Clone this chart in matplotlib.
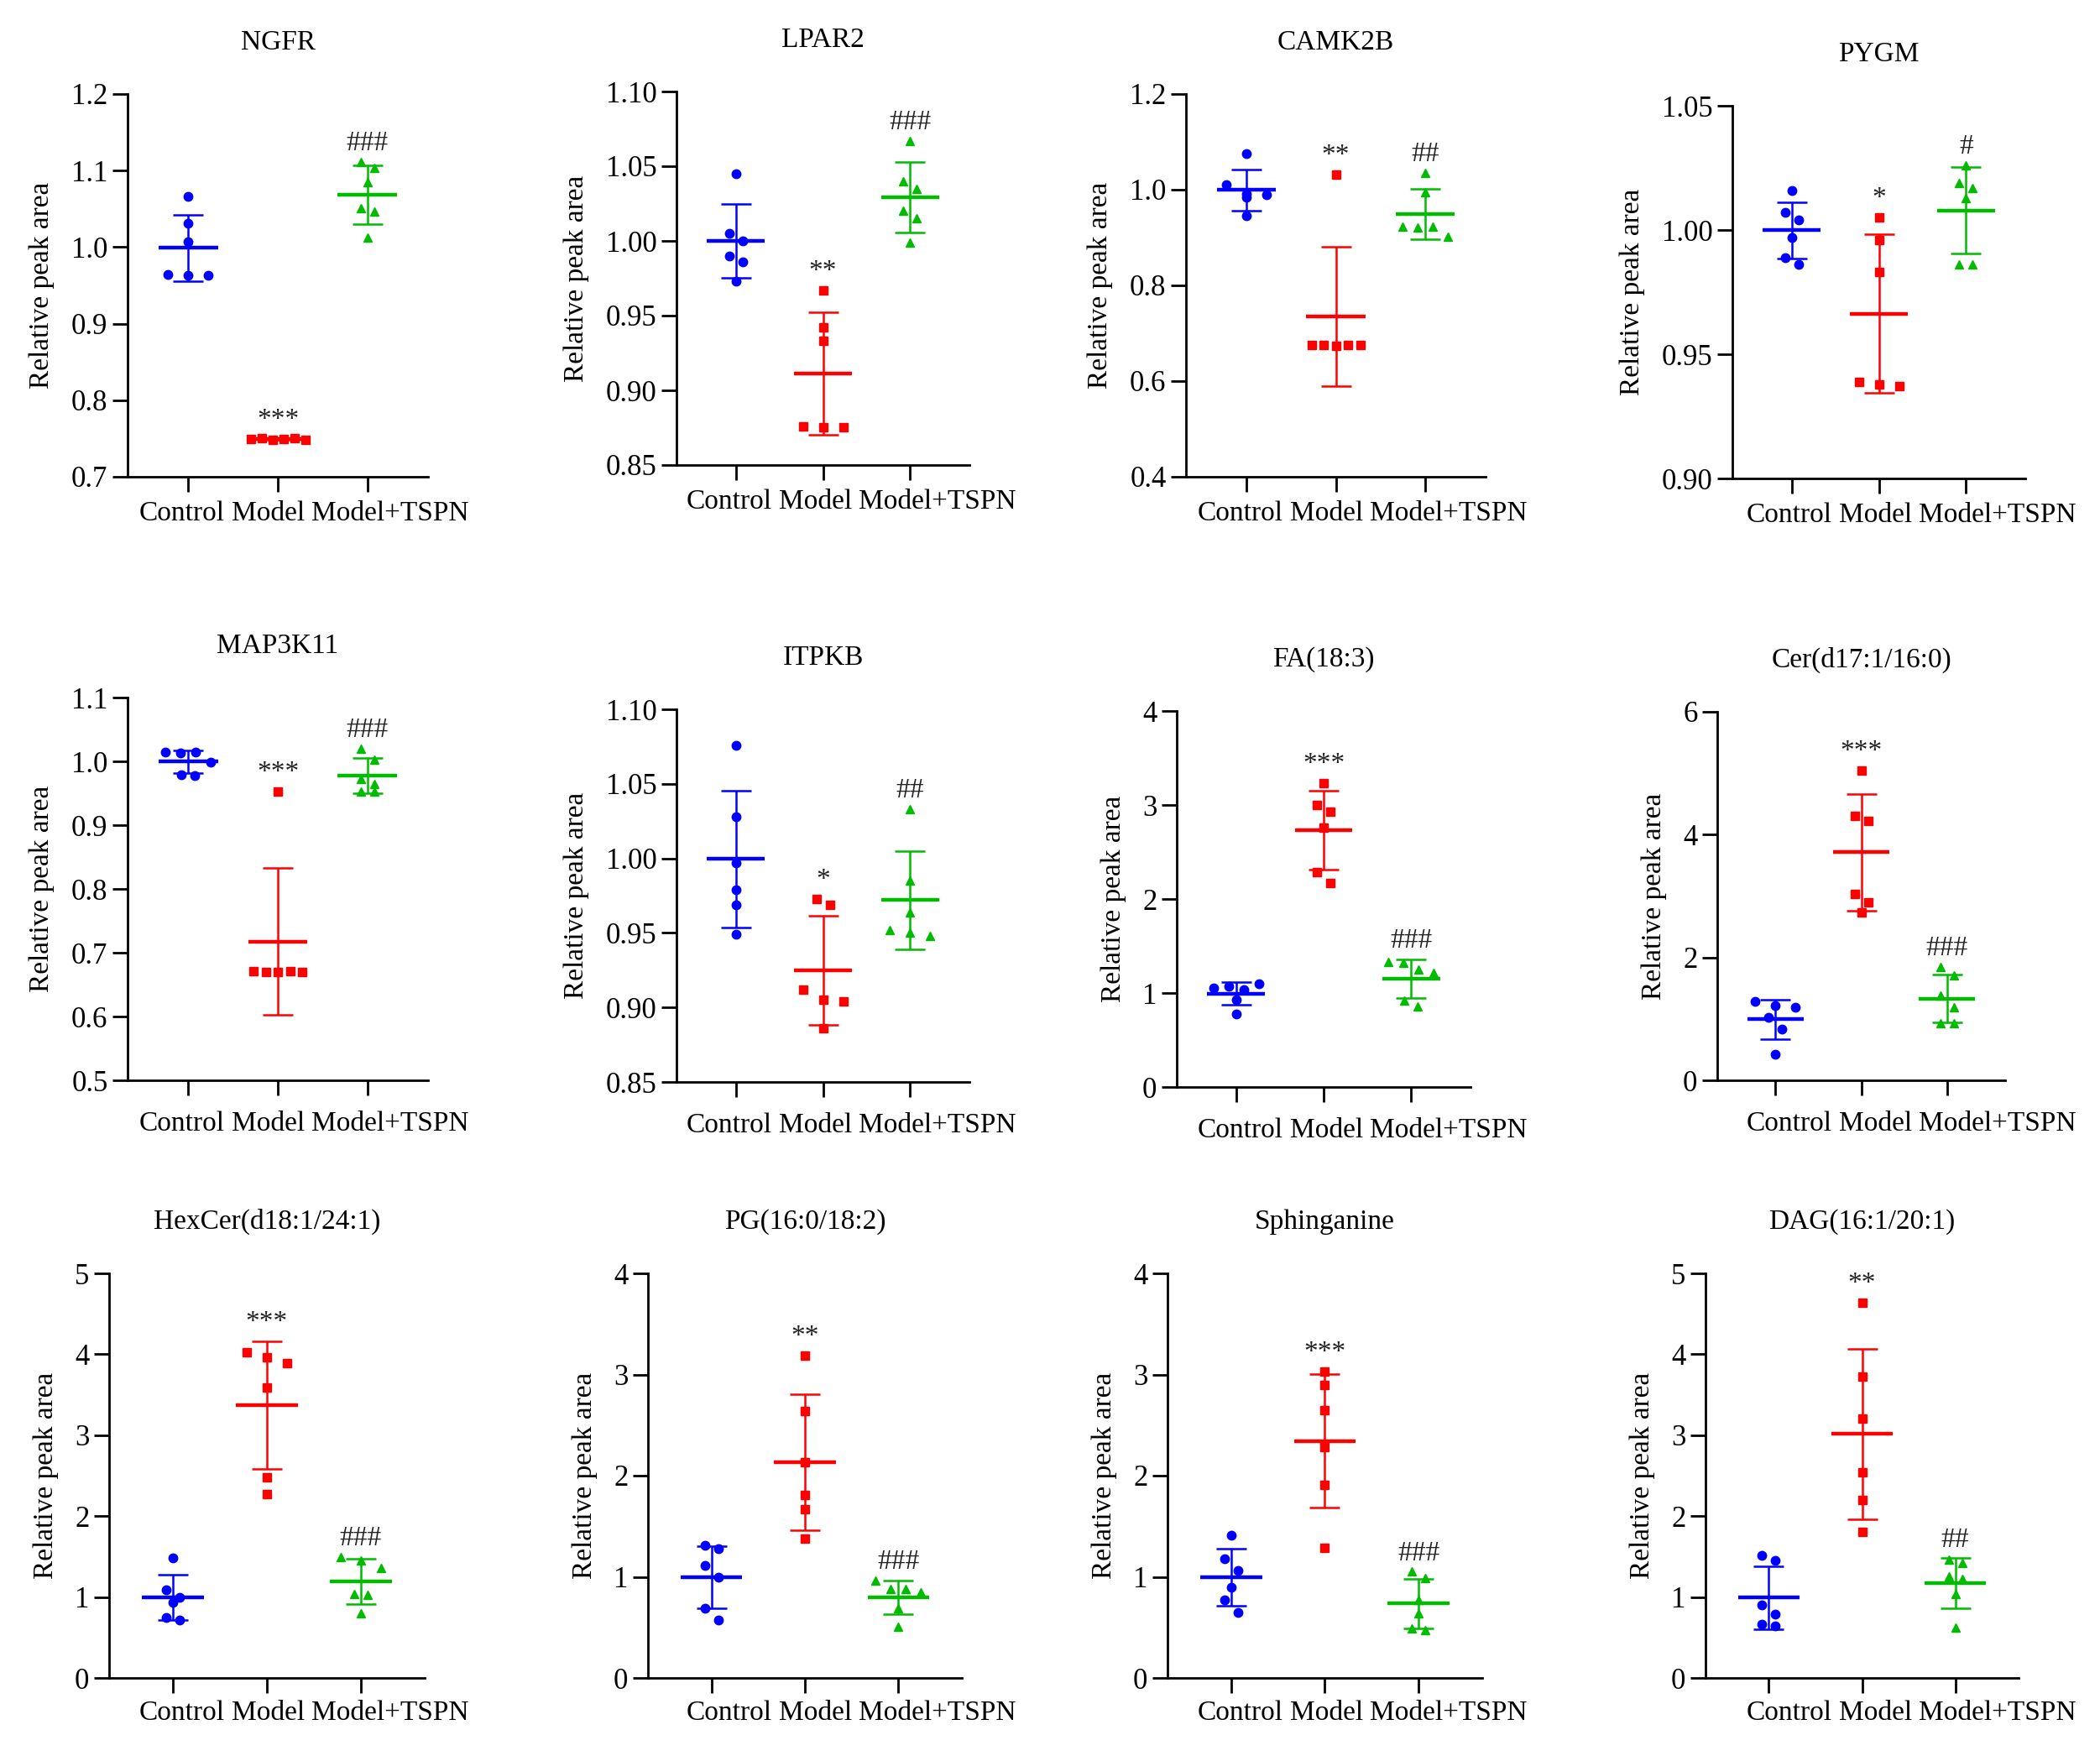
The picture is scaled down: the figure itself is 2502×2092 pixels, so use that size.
import numpy as np
import matplotlib.pyplot as plt
from matplotlib.ticker import FormatStrFormatter
from matplotlib.transforms import ScaledTranslation

plt.rcParams['font.family'] = ['Liberation Serif', 'DejaVu Serif']

groups = ["Control", "Model", "Model+TSPN"]
titles = ["NGFR", "LPAR2", "CAMK2B", "PYGM", "MAP3K11", "ITPKB", "FA(18:3)",
          "Cer(d17:1/16:0)", "HexCer(d18:1/24:1)", "PG(16:0/18:2)", "Sphinganine",
          "DAG(16:1/20:1)"]

# relative peak area, 6 samples per group
ngfr_control = [1.066, 1.031, 1.007, 0.964, 0.963, 0.963]
ngfr_model = [0.749, 0.750, 0.748, 0.749, 0.750, 0.748]
ngfr_tspn = [1.111, 1.104, 1.085, 1.051, 1.047, 1.012]

lpar2_control = [1.045, 1.005, 1.000, 0.990, 0.986, 0.973]
lpar2_model = [0.967, 0.942, 0.933, 0.876, 0.875, 0.875]
lpar2_tspn = [1.067, 1.040, 1.035, 1.020, 1.015, 0.999]

camk2b_control = [1.076, 1.011, 0.992, 0.989, 0.984, 0.945]
camk2b_model = [1.032, 0.676, 0.675, 0.674, 0.676, 0.675]
camk2b_tspn = [1.035, 0.994, 0.922, 0.921, 0.922, 0.902]

pygm_control = [1.016, 1.007, 1.004, 0.997, 0.989, 0.986]
pygm_model = [1.005, 0.996, 0.983, 0.939, 0.938, 0.937]
pygm_tspn = [1.026, 1.019, 1.017, 1.013, 0.986, 0.986]

map3k11_control = [1.015, 1.013, 1.015, 0.999, 0.979, 0.977]
map3k11_model = [0.953, 0.671, 0.670, 0.670, 0.671, 0.670]
map3k11_tspn = [1.020, 1.002, 0.973, 0.965, 0.952, 0.952]

itpkb_control = [1.076, 1.028, 0.997, 0.979, 0.969, 0.949]
itpkb_model = [0.973, 0.969, 0.912, 0.905, 0.904, 0.886]
itpkb_tspn = [1.033, 0.985, 0.964, 0.952, 0.950, 0.948]

fa_control = [1.05, 1.07, 1.04, 1.10, 0.93, 0.78]
fa_model = [3.23, 3.00, 2.93, 2.76, 2.29, 2.17]
fa_tspn = [1.33, 1.32, 1.25, 1.21, 0.92, 0.86]

cer_control = [1.28, 1.21, 1.19, 1.02, 0.83, 0.43]
cer_model = [5.05, 4.31, 4.23, 3.04, 2.90, 2.74]
cer_tspn = [1.85, 1.71, 1.38, 1.19, 0.93, 0.93]

hexcer_control = [1.48, 1.09, 1.00, 0.93, 0.75, 0.72]
hexcer_model = [4.03, 3.96, 3.89, 3.59, 2.48, 2.27]
hexcer_tspn = [1.49, 1.45, 1.36, 1.04, 1.03, 0.80]

pg_control = [1.31, 1.28, 1.11, 1.00, 0.69, 0.57]
pg_model = [3.19, 2.64, 2.13, 1.81, 1.67, 1.38]
pg_tspn = [0.96, 0.88, 0.88, 0.85, 0.69, 0.51]

sph_control = [1.41, 1.18, 1.06, 0.90, 0.77, 0.65]
sph_model = [3.03, 2.90, 2.65, 2.28, 1.91, 1.29]
sph_tspn = [1.05, 0.99, 0.77, 0.64, 0.49, 0.47]

dag_control = [1.51, 1.45, 0.90, 0.79, 0.66, 0.64]
dag_model = [4.64, 3.72, 3.21, 2.54, 2.20, 1.80]
dag_tspn = [1.46, 1.42, 1.26, 1.22, 1.04, 0.62]

model_sig = ["***", "**", "**", "*", "***", "*", "***", "***", "***", "**", "***", "**"]
tspn_sig = ["###", "###", "##", "#", "###", "##", "###", "###", "###", "###", "###", "##"]

yticks = [
    [0.7, 0.8, 0.9, 1.0, 1.1, 1.2],
    [0.85, 0.90, 0.95, 1.00, 1.05, 1.10],
    [0.4, 0.6, 0.8, 1.0, 1.2],
    [0.90, 0.95, 1.00, 1.05],
    [0.5, 0.6, 0.7, 0.8, 0.9, 1.0, 1.1],
    [0.85, 0.90, 0.95, 1.00, 1.05, 1.10],
    [0, 1, 2, 3, 4],
    [0, 2, 4, 6],
    [0, 1, 2, 3, 4, 5],
    [0, 1, 2, 3, 4],
    [0, 1, 2, 3, 4],
    [0, 1, 2, 3, 4, 5],
]
ytick_fmt = ['%.1f', '%.2f', '%.1f', '%.2f', '%.1f', '%.2f', '%d', '%d', '%d', '%d', '%d', '%d']

panels = [
    (ngfr_control, ngfr_model, ngfr_tspn),
    (lpar2_control, lpar2_model, lpar2_tspn),
    (camk2b_control, camk2b_model, camk2b_tspn),
    (pygm_control, pygm_model, pygm_tspn),
    (map3k11_control, map3k11_model, map3k11_tspn),
    (itpkb_control, itpkb_model, itpkb_tspn),
    (fa_control, fa_model, fa_tspn),
    (cer_control, cer_model, cer_tspn),
    (hexcer_control, hexcer_model, hexcer_tspn),
    (pg_control, pg_model, pg_tspn),
    (sph_control, sph_model, sph_tspn),
    (dag_control, dag_model, dag_tspn),
]

colors = ['#0000FF', '#FF0000', '#00BB00']
markers = ['o', 's', '^']

# axes boxes in pixels: left, right, top, bottom
W, H = 2502, 2092
boxes = [
    (152, 510, 112, 568), (806, 1155, 109, 554), (1413, 1770, 112, 568), (2064, 2413, 126, 570),
    (152, 510, 831, 1287), (806, 1155, 845, 1289), (1402, 1752, 847, 1295), (2046, 2389, 848, 1287),
    (130, 506, 1517, 1999), (772, 1146, 1517, 1999), (1391, 1766, 1517, 1999), (2032, 2405, 1517, 1999),
]
# group labels sit at the same spot in every column (pixel centres)
col_base = [0, 652, 1261, 1915]
label_centres = [217, 320, 465]
row_drop = [5, 13, 3]

row_spacing = {1: 0, 2: 16, 3: 24, 4: 18, 5: 14.5}


def swarm(values, xpx, ypx):
    # spread points of similar value side by side, like a scatter dot plot
    vals = np.asarray(values, dtype=float)
    order = np.argsort(vals)[::-1]
    bins = []
    for i in order:
        if bins and (vals[bins[-1][0]] - vals[i]) * ypx <= 15:
            bins[-1].append(i)
        else:
            bins.append([i])
    offs = np.zeros(len(vals))
    for b in bins:
        n = len(b)
        s = row_spacing.get(n, 13)
        for k, i in enumerate(sorted(b)):
            offs[i] = (k - (n - 1) / 2) * s / xpx
    return offs


fig = plt.figure(figsize=(W / 100, H / 100), dpi=100)

for p, (title, data) in enumerate(zip(titles, panels)):
    L, R, T, B = boxes[p]
    ax = fig.add_axes([L / W, 1 - B / H, (R - L) / W, (B - T) / H])
    ylo, yhi = yticks[p][0], yticks[p][-1]
    ax.set_xlim(-0.68, 2.68)
    ax.set_ylim(ylo, yhi)
    xpx = (R - L) / 3.36
    ypx = (B - T) / (yhi - ylo)

    for g, vals in enumerate(data):
        vals = np.array(vals)
        m = vals.mean()
        sd = vals.std(ddof=1)
        ax.errorbar(g, m, yerr=sd, fmt='none', ecolor=colors[g], elinewidth=1.8,
                    capsize=13, capthick=1.8, zorder=2)
        ax.hlines(m, g - 0.33, g + 0.33, colors=colors[g], lw=3.2, zorder=2)
        xs = g + swarm(vals, xpx, ypx)
        ax.plot(xs, vals, linestyle='none', marker=markers[g], ms=7.5, color=colors[g],
                mec=colors[g], zorder=3, clip_on=False)
        if g > 0:
            top = max(vals.max(), m + sd)
            lab = model_sig[p] if g == 1 else tspn_sig[p]
            ax.annotate(lab, (g, top), xytext=(0, 10), textcoords='offset points',
                        ha='center', va='baseline', fontsize=24, color='#222222')

    ax.set_title(title, fontsize=24, pad=38)
    ax.set_ylabel("Relative peak area", fontsize=24, labelpad=14)
    ax.set_yticks(yticks[p])
    ax.yaxis.set_major_formatter(FormatStrFormatter(ytick_fmt[p]))
    ax.set_xticks([0, 1, 2])
    ax.set_xticklabels(groups)
    for side in ['top', 'right']:
        ax.spines[side].set_visible(False)
    for side in ['left', 'bottom']:
        ax.spines[side].set_linewidth(2)
    ax.tick_params(axis='both', direction='out', length=13, width=2, labelsize=25, pad=4)
    ax.tick_params(axis='x', labelsize=24)
    col = p % 4
    dy = -row_drop[p // 4]
    for g, lbl in enumerate(ax.get_xticklabels()):
        tick_px = ax.transData.transform((g, ylo))[0]
        dx = col_base[col] + label_centres[g] - tick_px
        lbl.set_transform(lbl.get_transform() + ScaledTranslation(dx / 100, dy / 100, fig.dpi_scale_trans))

fig.savefig("out.png", dpi=100)
